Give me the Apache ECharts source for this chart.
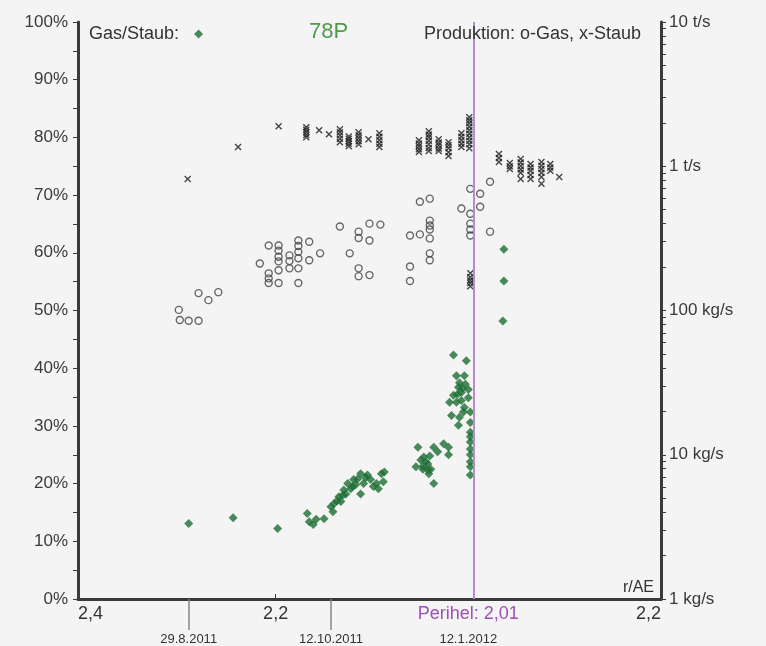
<!DOCTYPE html>
<html>
<head>
<meta charset="utf-8">
<title>78P Gas/Staub</title>
<script src="https://cdn.jsdelivr.net/npm/echarts@6/dist/echarts.min.js"></script>
<style>
html, body { margin: 0; padding: 0; background: #f4f4f4; }
#main { width: 766px; height: 646px; }
</style>
</head>
<body>
<div id="main"></div>
<script>
// x = Strecke entlang der r-Achse (AE): 0 = 2,4 AE vor Perihel, 0.395 = Perihel 2,01, 0.59 = 2,2 AE danach
var rTicks = [0, 0.2, 0.395, 0.59];
var rLabels = ['2,4', '2,2', 'Perihel: 2,01', '2,2'];
var dateTicks = [0.112, 0.256, 0.395];
var dateLabels = ['29.8.2011', '12.10.2011', '12.1.2012'];
var perihel = 0.395;

// rechte Achse (kg/s, logarithmisch)
var prodTicks = [1, 10, 100, 1000, 10000];
var prodLabels = ['1 kg/s', '10 kg/s', '100 kg/s', '1 t/s', '10 t/s'];
var prodMinor = [1, 2, 3, 4, 5, 6, 7, 8, 9, 10, 20, 30, 40, 50, 60, 70, 80, 90, 100,
	200, 300, 400, 500, 600, 700, 800, 900, 1000, 2000, 3000, 4000, 5000, 6000, 7000, 8000, 9000, 10000];

// Gas/Staub-Verhaeltnis in %
var gasStaub = [
	[0.112, 13.1], [0.157, 14.1], [0.202, 12.2],
	[0.232, 14.8], [0.234, 13.4], [0.238, 12.9], [0.241, 13.8], [0.249, 13.9],
	[0.256, 16.0], [0.258, 15.1], [0.259, 16.5], [0.262, 17.0], [0.264, 17.7], [0.266, 16.9],
	[0.268, 18.0], [0.269, 18.9], [0.271, 18.2], [0.273, 20.0], [0.276, 19.1], [0.278, 19.5],
	[0.279, 20.7], [0.281, 19.8], [0.283, 20.8], [0.286, 21.7], [0.286, 18.2], [0.289, 20.0],
	[0.291, 21.0], [0.293, 21.5], [0.296, 20.7], [0.299, 19.5], [0.302, 20.0], [0.304, 19.1],
	[0.307, 21.7], [0.309, 20.3], [0.310, 22.0],
	[0.342, 22.9], [0.344, 26.3], [0.347, 24.1], [0.349, 22.5], [0.349, 23.0], [0.350, 24.6],
	[0.352, 23.8], [0.354, 23.4], [0.354, 22.4], [0.355, 21.7], [0.356, 24.8], [0.357, 22.5],
	[0.360, 26.3], [0.360, 20.0], [0.364, 25.5], [0.370, 26.9], [0.375, 26.3], [0.375, 25.0],
	[0.376, 34.1], [0.378, 31.8], [0.380, 42.3], [0.380, 35.3], [0.383, 38.7], [0.383, 34.1],
	[0.384, 35.5], [0.385, 36.7], [0.385, 30.1], [0.386, 37.5], [0.386, 31.5], [0.388, 35.8],
	[0.388, 34.4], [0.389, 36.5], [0.390, 32.4], [0.391, 38.7], [0.391, 33.2], [0.392, 37.2],
	[0.393, 41.3], [0.395, 36.3], [0.395, 34.9],
	[0.397, 32.4], [0.397, 30.6], [0.397, 28.9], [0.397, 28.1], [0.397, 27.2], [0.397, 26.0],
	[0.397, 25.0], [0.397, 23.8], [0.397, 22.9], [0.397, 21.5],
	[0.431, 60.6], [0.431, 55.1], [0.430, 48.2]
];

// Gasproduktion in kg/s (o)
var gas = [
	[0.102, 101], [0.103, 86], [0.112, 85], [0.122, 85], [0.122, 132], [0.132, 118], [0.142, 134],
	[0.184, 212], [0.193, 282], [0.193, 181], [0.193, 167], [0.193, 155],
	[0.203, 282], [0.203, 260], [0.203, 236], [0.203, 219], [0.203, 190], [0.203, 155],
	[0.214, 241], [0.214, 220], [0.214, 196],
	[0.223, 306], [0.223, 280], [0.223, 255], [0.223, 230], [0.223, 196], [0.223, 155],
	[0.234, 300], [0.234, 223], [0.245, 249],
	[0.265, 382], [0.275, 249], [0.284, 352], [0.284, 318], [0.284, 196], [0.284, 173],
	[0.295, 400], [0.295, 306], [0.295, 176], [0.306, 394],
	[0.336, 331], [0.336, 202], [0.336, 160], [0.346, 337], [0.346, 567], [0.356, 596],
	[0.356, 420], [0.356, 388], [0.356, 364], [0.356, 316], [0.356, 249], [0.356, 223],
	[0.388, 510], [0.397, 697], [0.397, 469], [0.397, 400], [0.397, 364], [0.397, 331],
	[0.407, 644], [0.407, 524], [0.417, 780], [0.417, 352]
];

// Staubproduktion in kg/s (x)
var staub = [
	[0.111, 817], [0.162, 1358], [0.203, 1892],
	[0.231, 1862], [0.231, 1790], [0.231, 1722], [0.231, 1650], [0.231, 1589],
	[0.244, 1778], [0.254, 1667],
	[0.265, 1804], [0.265, 1720], [0.265, 1637], [0.265, 1550], [0.265, 1469],
	[0.274, 1610], [0.274, 1550], [0.274, 1493], [0.274, 1430], [0.274, 1378],
	[0.284, 1722], [0.284, 1640], [0.284, 1563], [0.284, 1490], [0.284, 1422],
	[0.294, 1541],
	[0.305, 1694], [0.305, 1600], [0.305, 1516], [0.305, 1430], [0.305, 1358],
	[0.345, 1516], [0.345, 1440], [0.345, 1378], [0.345, 1310], [0.345, 1254],
	[0.355, 1750], [0.355, 1660], [0.355, 1589], [0.355, 1500], [0.355, 1422], [0.355, 1340], [0.355, 1274],
	[0.365, 1541], [0.365, 1460], [0.365, 1400], [0.365, 1330], [0.365, 1274],
	[0.375, 1469], [0.375, 1400], [0.375, 1334], [0.375, 1250], [0.375, 1177],
	[0.388, 1694], [0.388, 1600], [0.388, 1516], [0.388, 1430], [0.388, 1358],
	[0.396, 2183], [0.396, 2080], [0.396, 1986], [0.396, 1880], [0.396, 1778], [0.396, 1680],
	[0.396, 1589], [0.396, 1500], [0.396, 1422], [0.396, 1334],
	[0.397, 181], [0.397, 170], [0.397, 162], [0.397, 155], [0.397, 147],
	[0.426, 1214], [0.426, 1140], [0.426, 1070],
	[0.437, 1053], [0.437, 1000], [0.437, 957],
	[0.448, 1122], [0.448, 1060], [0.448, 1005], [0.448, 950], [0.448, 900], [0.448, 817],
	[0.458, 1038], [0.458, 980], [0.458, 929], [0.458, 870], [0.458, 817],
	[0.469, 1070], [0.469, 1010], [0.469, 957], [0.469, 900], [0.469, 843], [0.469, 755],
	[0.478, 1038], [0.478, 980], [0.478, 929],
	[0.487, 843]
];

var font = 'Liberation Sans, Arial, sans-serif';
var axisColor = '#3a3a3a';
var purple = '#a050b4';

function pick(v, ticks, labels) {
	for (var i = 0; i < ticks.length; i++) {
		if (Math.abs(v - ticks[i]) < 1e-6) return labels[i];
	}
	return '';
}

// Hilfsachse fuer die Striche 2..9 je Dekade (in Dekaden gemessen)
var prodMinorDecades = prodMinor.map(function(v) { return Math.log10(v); });

var myChart = echarts.init(document.getElementById('main'));
var option = {
	backgroundColor: '#f4f4f4',
	animation: false,
	textStyle: { fontFamily: font },
	title: [
		{ text: '78P', left: 304, top: 16, textStyle: { fontSize: 22, fontWeight: 'normal', color: '#4f9a4a', fontFamily: font } },
		{ text: 'Produktion: o-Gas, x-Staub', right: 120, top: 20, textStyle: { fontSize: 18, fontWeight: 'normal', color: '#333', fontFamily: font } }
	],
	legend: {
		left: 84, top: 20,
		align: 'right',
		itemWidth: 9, itemHeight: 9,
		data: [{ name: 'Gas/Staub', icon: 'diamond' }],
		formatter: function() { return 'Gas/Staub:  '; },
		textStyle: { fontSize: 18, color: '#333', fontFamily: font }
	},
	grid: { left: 78, right: 105, top: 22, bottom: 43, containLabel: false },
	xAxis: [{
		type: 'value', min: 0, max: 0.59, position: 'bottom',
		splitLine: { show: false },
		axisLine: { onZero: false, lineStyle: { color: axisColor, width: 3 } },
		axisTick: { customValues: [0.2], inside: true, length: 5, lineStyle: { color: axisColor } },
		axisLabel: {
			customValues: rTicks,
			alignMinLabel: 'left', alignMaxLabel: 'right',
			margin: 6, fontSize: 18, color: '#333',
			formatter: function(v) {
				var t = pick(v, rTicks, rLabels);
				return t.indexOf('Perihel') === 0 ? '{p|' + t + '}' : t;
			},
			rich: { p: { color: purple, fontSize: 18, fontFamily: font } }
		}
	}, {
		type: 'value', min: 0, max: 0.59, position: 'bottom',
		splitLine: { show: false },
		axisLine: { show: false, onZero: false },
		axisTick: { customValues: [0.112, 0.256], length: 31, lineStyle: { color: '#888', width: 1.5 } },
		axisLabel: {
			customValues: dateTicks, margin: 34, fontSize: 13, color: '#333',
			formatter: function(v) { return pick(v, dateTicks, dateLabels); }
		}
	}],
	yAxis: [{
		type: 'value', min: 0, max: 100, interval: 10, position: 'left',
		splitLine: { show: false },
		axisLine: { show: true, onZero: false, lineStyle: { color: axisColor, width: 3 } },
		axisTick: { show: true, length: 5, lineStyle: { color: axisColor } },
		minorTick: { show: true, splitNumber: 2, length: 5, lineStyle: { color: axisColor } },
		axisLabel: { fontSize: 17, color: '#3a3a3a', margin: 10, formatter: '{value}%' }
	}, {
		type: 'log', logBase: 10, min: 1, max: 10000, position: 'right',
		splitLine: { show: false },
		axisLine: { show: true, onZero: false, lineStyle: { color: axisColor, width: 3 } },
		axisTick: { show: false },
		axisLabel: {
			customValues: prodTicks, fontSize: 17, color: '#3a3a3a', margin: 8,
			formatter: function(v) { return pick(v, prodTicks, prodLabels); }
		}
	}, {
		type: 'value', min: 0, max: 4, position: 'right',
		splitLine: { show: false },
		axisLine: { show: false, onZero: false },
		axisLabel: { show: false },
		axisTick: { show: true, customValues: prodMinorDecades, length: 5, lineStyle: { color: axisColor, width: 1 } }
	}],
	graphic: [{
		type: 'text', right: 112, top: 580,
		style: { text: 'r/AE', fontSize: 16, fill: '#333', fontFamily: font }
	}],
	series: [{
		name: 'Gas',
		type: 'scatter', xAxisIndex: 0, yAxisIndex: 1,
		symbol: 'circle', symbolSize: 7,
		itemStyle: { color: 'none', borderColor: '#444', borderWidth: 1.4 },
		data: gas
	}, {
		name: 'Staub',
		type: 'scatter', xAxisIndex: 0, yAxisIndex: 1,
		symbol: 'path://M0,0L10,10M10,0L0,10', symbolSize: 6,
		itemStyle: { color: 'none', borderColor: '#1a1a1a', borderWidth: 1.4 },
		data: staub
	}, {
		name: 'Gas/Staub',
		type: 'scatter', xAxisIndex: 0, yAxisIndex: 0,
		symbol: 'diamond', symbolSize: 9,
		itemStyle: { color: '#1d6e32' },
		data: gasStaub,
		markLine: {
			silent: true, symbol: 'none',
			label: { show: false },
			lineStyle: { color: '#b98bcc', width: 2, type: 'solid' },
			data: [{ xAxis: perihel }]
		}
	}]
};
myChart.setOption(option);
</script>
</body>
</html>
